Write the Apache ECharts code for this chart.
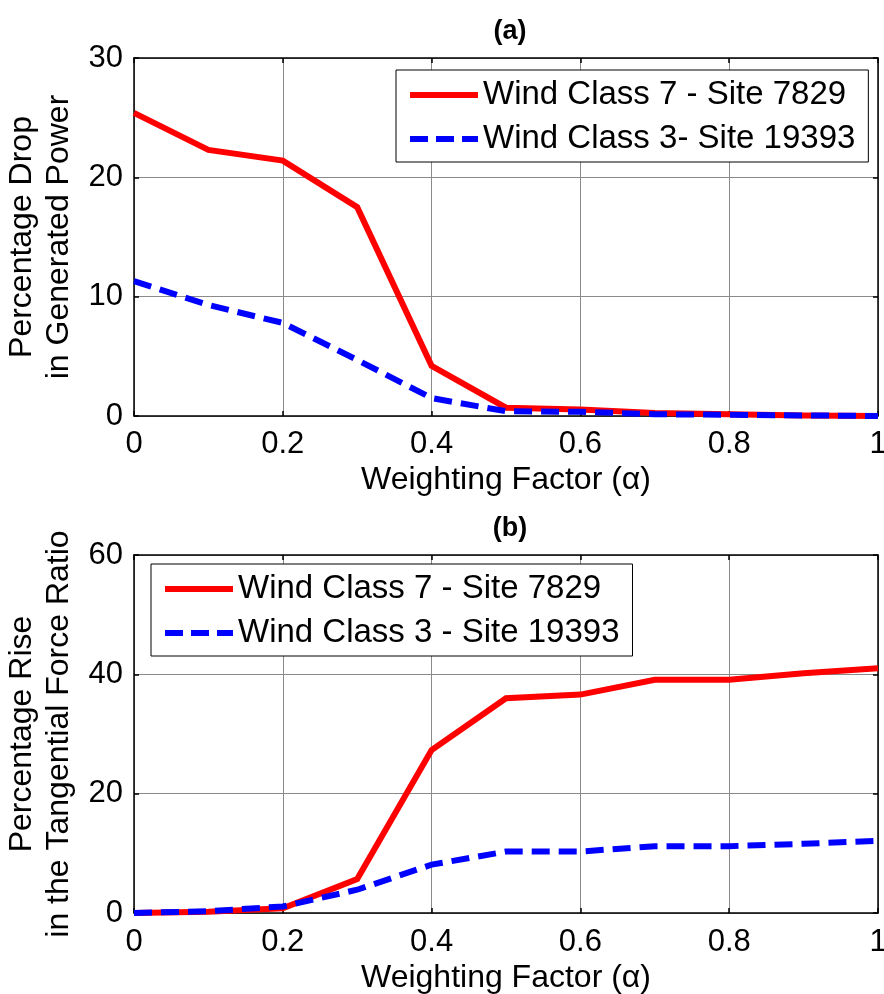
<!DOCTYPE html>
<html>
<head>
<meta charset="utf-8">
<script src="https://cdn.jsdelivr.net/npm/echarts@6/dist/echarts.min.js"></script>
<style>
html,body{margin:0;padding:0;background:#fff;}
#chart{width:884px;height:994px;}
</style>
</head>
<body>
<div id="chart"></div>
<script>
// ---- data ----
const alpha = [0, 0.1, 0.2, 0.3, 0.4, 0.5, 0.6, 0.7, 0.8, 0.9, 1.0];
const dropClass7 = [25.4, 22.3, 21.4, 17.5, 4.2, 0.7, 0.55, 0.25, 0.15, 0.05, 0];
const dropClass3 = [11.3, 9.3, 7.8, 4.7, 1.5, 0.4, 0.35, 0.15, 0.1, 0.05, 0];
const riseClass7 = [0, 0.2, 0.8, 5.7, 27.3, 36.0, 36.6, 39.1, 39.1, 40.2, 41.0];
const riseClass3 = [0, 0.3, 1.1, 3.9, 8.1, 10.3, 10.3, 11.2, 11.2, 11.6, 12.1];
const xTicks = [0, 0.2, 0.4, 0.6, 0.8, 1];
const topYTicks = [0, 10, 20, 30];
const botYTicks = [0, 20, 40, 60];
const namesTop = ['Wind Class 7 - Site 7829', 'Wind Class 3- Site 19393'];
const namesBot = ['Wind Class 7 - Site 7829', 'Wind Class 3 - Site 19393'];
const titles = ['(a)', '(b)'];
const xName = 'Weighting Factor (\u03B1)';
const yNameTop = 'Percentage Drop\nin Generated Power';
const yNameBot = 'Percentage Rise\nin the Tangential Force Ratio';

const FONT = "'Liberation Sans', Arial, sans-serif";
const pair = (xs, ys) => xs.map((x, i) => [x, ys[i]]);
const SOLID_ICON = 'path://M0,0h68v6h-68z';
const DASH_ICON = 'path://M0,0h18v6h-18z M26,0h18v6h-18z M52,0h16v6h-16z';

const grids = [
  {left: 134, width: 744, top: 58, height: 358, outerBoundsMode: 'none', containLabel: false},
  {left: 134, width: 744, top: 555, height: 358, outerBoundsMode: 'none', containLabel: false}
];

function xAxisMain(gi) {
  return {
    type: 'value', gridIndex: gi, min: xTicks[0], max: xTicks[xTicks.length - 1], interval: 0.2,
    name: xName, nameLocation: 'middle', nameGap: gi === 0 ? 48 : 49,
    nameTextStyle: {fontFamily: FONT, fontSize: 32, color: '#000'},
    axisLine: {show: true, onZero: false, lineStyle: {color: '#000', width: 1.5}},
    axisTick: {show: true, inside: true, length: 5, lineStyle: {color: '#000', width: 1.5}},
    axisLabel: {fontFamily: FONT, fontSize: 31, color: '#000', margin: gi === 0 ? 13 : 14},
    splitLine: {show: true, lineStyle: {color: '#8a8a8a', width: 1}}
  };
}
function xAxisMirror(gi) {
  return {
    type: 'value', gridIndex: gi, position: 'top', min: 0, max: 1, interval: 0.2,
    axisLine: {show: true, onZero: false, lineStyle: {color: '#000', width: 1.5}},
    axisTick: {show: true, inside: true, length: 5, lineStyle: {color: '#000', width: 1.5}},
    axisLabel: {show: false}, splitLine: {show: false}
  };
}
function yAxisMain(gi, ticks, name) {
  return {
    type: 'value', gridIndex: gi, min: ticks[0], max: ticks[ticks.length - 1], interval: ticks[1] - ticks[0],
    name: name, nameLocation: 'middle', nameGap: 56, nameRotate: 90,
    nameTextStyle: {fontFamily: FONT, fontSize: 32, color: '#000', lineHeight: 37, align: 'center'},
    axisLine: {show: true, onZero: false, lineStyle: {color: '#000', width: 1.5}},
    axisTick: {show: true, inside: true, length: 5, lineStyle: {color: '#000', width: 1.5}},
    axisLabel: {fontFamily: FONT, fontSize: 31, color: '#000', margin: 11},
    splitLine: {show: true, lineStyle: {color: '#8a8a8a', width: 1}}
  };
}
function yAxisMirror(gi, ticks) {
  return {
    type: 'value', gridIndex: gi, position: 'right', min: ticks[0], max: ticks[ticks.length - 1], interval: ticks[1] - ticks[0],
    axisLine: {show: true, onZero: false, lineStyle: {color: '#000', width: 1.5}},
    axisTick: {show: true, inside: true, length: 5, lineStyle: {color: '#000', width: 1.5}},
    axisLabel: {show: false}, splitLine: {show: false}
  };
}
function legendCfg(names, left, top) {
  return {
    data: [
      {name: names[0], icon: SOLID_ICON},
      {name: names[1], icon: DASH_ICON}
    ],
    orient: 'vertical', left: left, top: top,
    backgroundColor: '#fff', borderColor: '#000', borderWidth: 1,
    padding: [7, 13, 5, 14], itemGap: 8, itemWidth: 68, itemHeight: 6,
    textStyle: {fontFamily: FONT, fontSize: 33, color: '#000', lineHeight: 36},
    selectedMode: false
  };
}
function lineSeries(name, xi, yi, ys, color, dashed) {
  return {
    type: 'line', name: name, xAxisIndex: xi, yAxisIndex: yi,
    data: pair(alpha, ys), symbol: 'none', showSymbol: false, animation: false,
    lineStyle: {color: color, width: 6, type: dashed ? [18, 9] : 'solid', cap: 'butt', join: 'miter'},
    itemStyle: {color: color}, z: dashed ? 3 : 2
  };
}

const option = {
  backgroundColor: '#fff',
  animation: false,
  title: [
    {text: titles[0], left: 505, top: 13, textAlign: 'center',
     textStyle: {fontFamily: FONT, fontSize: 27, fontWeight: 'bold', color: '#000'}},
    {text: titles[1], left: 505, top: 510, textAlign: 'center',
     textStyle: {fontFamily: FONT, fontSize: 27, fontWeight: 'bold', color: '#000'}}
  ],
  grid: grids,
  xAxis: [xAxisMain(0), xAxisMirror(0), xAxisMain(1), xAxisMirror(1)],
  yAxis: [yAxisMain(0, topYTicks, yNameTop), yAxisMirror(0, topYTicks),
          yAxisMain(1, botYTicks, yNameBot), yAxisMirror(1, botYTicks)],
  legend: [legendCfg(namesTop, 396, 70), legendCfg(namesBot, 151, 564)],
  series: [
    lineSeries(namesTop[0], 0, 0, dropClass7, '#ff0000', false),
    lineSeries(namesTop[1], 0, 0, dropClass3, '#0000ff', true),
    lineSeries(namesBot[0], 2, 2, riseClass7, '#ff0000', false),
    lineSeries(namesBot[1], 2, 2, riseClass3, '#0000ff', true)
  ]
};
const chart = echarts.init(document.getElementById('chart'), null, {renderer: 'canvas'});
chart.setOption(option);
</script>
</body>
</html>
